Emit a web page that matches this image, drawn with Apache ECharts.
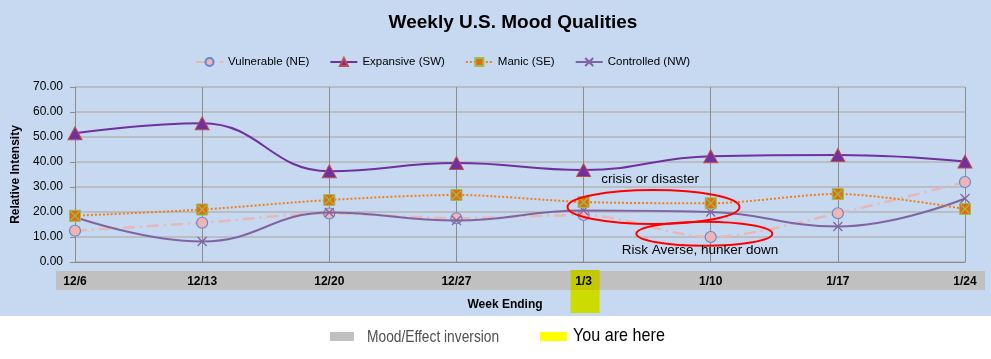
<!DOCTYPE html>
<html><head><meta charset="utf-8">
<script src="https://cdn.jsdelivr.net/npm/echarts@6/dist/echarts.min.js"></script>
<style>html,body{margin:0;padding:0;background:#C6D9F1;}#c{width:991px;height:359px;}</style>
</head><body><div id="c"></div>
<script>
const categories = ['12/6','12/13','12/20','12/27','1/3','1/10','1/17','1/24'];
const vulnerable = [12.5, 15.7, 19.4, 17.5, 18.8, 10.0, 19.5, 32.0];
const expansive  = [51.5, 55.5, 36.3, 39.6, 36.8, 42.3, 42.8, 40.2];
const manic      = [18.5, 21.0, 24.8, 26.8, 24.0, 23.5, 27.2, 21.2];
const controlled = [18.0, 8.2, 19.8, 16.6, 20.6, 20.0, 14.2, 25.4];
const yTicks = [0, 10, 20, 30, 40, 50, 60, 70];
const annotations = [
  {text: 'crisis or disaster', x: 4.55, y: 22.0, rx: 86, ry: 17, tx: 4.14, ty: 33.0},
  {text: 'Risk Averse, hunker down', x: 4.95, y: 11.3, rx: 68, ry: 12, tx: 4.3, ty: 4.5}
];
const youAreHere = 4;

const chart = echarts.init(document.getElementById('c'), null, {renderer: 'canvas'});
const FONT = 'Liberation Sans, Arial, sans-serif';
const crossPath = 'path://M0,0L10,10M10,0L0,10';
const sqX = 'path://M0,0L10,0L10,10L0,10Z';

chart.setOption({
  backgroundColor: '#C6D9F1',
  animation: false,
  title: {
    text: 'Weekly U.S. Mood Qualities', left: 508, top: 8, textAlign: 'center',
    textStyle: {fontFamily: FONT, fontWeight: 'bold', fontSize: 19, color: '#000'}
  },
  legend: {
    left: 190, top: 51, itemGap: 20, itemWidth: 27, itemHeight: 10,
    textStyle: {fontFamily: FONT, fontSize: 11.5, color: '#000'},
    data: ['Vulnerable (NE)', 'Expansive (SW)', 'Manic (SE)', 'Controlled (NW)']
  },
  grid: {left: 75, right: 26, top: 87, bottom: 97},
  xAxis: {
    type: 'category', data: categories, boundaryGap: false,
    name: 'Week Ending', nameLocation: 'middle', nameGap: 37,
    nameTextStyle: {fontFamily: FONT, fontWeight: 'bold', fontSize: 12, color: '#000', padding: [0, 30, 0, 0]},
    axisLine: {lineStyle: {color: '#8C8C8C', width: 1}},
    axisTick: {show: false},
    axisLabel: {fontFamily: FONT, fontWeight: 'bold', fontSize: 12, color: '#000', margin: 14},
    splitLine: {show: true, lineStyle: {color: '#8C8C8C', width: 1}}
  },
  yAxis: {
    type: 'value', min: 0, max: 70, interval: 10,
    name: 'Relative Intensity', nameLocation: 'middle', nameGap: 50,
    nameTextStyle: {fontFamily: FONT, fontWeight: 'bold', fontSize: 12, color: '#000'},
    axisLine: {show: true, lineStyle: {color: '#8C8C8C'}},
    axisTick: {show: true, length: 5, lineStyle: {color: '#8C8C8C'}},
    axisLabel: {fontFamily: FONT, fontSize: 12, color: '#000', margin: 12,
      formatter: v => yTicks.includes(v) ? v.toFixed(2) : ''},
    splitLine: {lineStyle: {color: '#B4B4B4', width: 1.5}}
  },
  series: [
    {
      name: 'Vulnerable (NE)', type: 'line', data: vulnerable, smooth: 0.3,
      symbol: 'circle', symbolSize: 11,
      lineStyle: {color: '#E6B9B8', width: 2.5, type: [12, 5, 2, 5]},
      itemStyle: {color: '#F2B3B3', borderColor: '#5B8BD0', borderWidth: 1.2}, z: 3
    },
    {
      name: 'Expansive (SW)', type: 'line', data: expansive, smooth: 0.45,
      symbol: 'triangle', symbolSize: [14, 13],
      lineStyle: {color: '#7030A0', width: 2},
      itemStyle: {color: '#7030A0', borderColor: '#C0504D', borderWidth: 1}, z: 4
    },
    {
      name: 'Manic (SE)', type: 'line', data: manic, smooth: 0.3,
      symbol: sqX, symbolSize: 11, symbolKeepAspect: true,
      lineStyle: {color: '#F07F1A', width: 2, type: [2, 2]},
      itemStyle: {color: '#E46C0A', borderColor: '#9BBB59', borderWidth: 1}, z: 5
    },
    {
      name: 'Manic (SE)', type: 'line', data: manic, lineStyle: {width: 0, opacity: 0},
      symbol: crossPath, symbolSize: 9, silent: true,
      itemStyle: {color: 'transparent', borderColor: '#9BBB59', borderWidth: 1.2}, z: 6,
      legendHoverLink: false
    },
    {
      name: 'Controlled (NW)', type: 'line', data: controlled, smooth: 0.45,
      symbol: crossPath, symbolSize: 9,
      lineStyle: {color: '#8064A2', width: 2},
      itemStyle: {color: 'transparent', borderColor: '#8064A2', borderWidth: 1.2}, z: 4
    }
  ]
});

const px = (i, v) => chart.convertToPixel({gridIndex: 0}, [i, v]);
const fx = (x, y) => {
  const i0 = Math.floor(x), f = x - i0;
  const a = px(i0, y), b = px(Math.min(i0 + 1, categories.length - 1), y);
  return [a[0] + (b[0] - a[0]) * f, a[1]];
};
const gridLeft = px(0, 0), gridRight = px(categories.length - 1, 0);
const yh = px(youAreHere, 0);
const graphics = [
  {type: 'rect', shape: {x: 0, y: 316, width: 991, height: 43}, style: {fill: '#FFFFFF'}, z: -20, silent: true},
  {type: 'rect', shape: {x: gridLeft[0] - 19, y: gridLeft[1] + 9, width: gridRight[0] - gridLeft[0] + 39, height: 19}, style: {fill: '#C0C0C0'}, z: -10, silent: true},
  {type: 'rect', shape: {x: yh[0] - 13, y: yh[1] + 8, width: 29, height: 20}, style: {fill: '#C4C800'}, z: -9, silent: true},
  {type: 'rect', shape: {x: yh[0] - 13, y: yh[1] + 28, width: 29, height: 23}, style: {fill: '#CCDC00'}, z: -9, silent: true},
  {type: 'rect', shape: {x: 330, y: 332, width: 24, height: 9}, style: {fill: '#C0C0C0'}, silent: true},
  {type: 'text', x: 367, y: 337, scaleX: 0.81, style: {text: 'Mood/Effect inversion', fill: '#505050', font: '17px "Liberation Sans", sans-serif', textVerticalAlign: 'middle'}, silent: true},
  {type: 'rect', shape: {x: 540, y: 332, width: 27, height: 9}, style: {fill: '#FFFF00'}, silent: true},
  {type: 'text', x: 573, y: 336, scaleX: 0.85, style: {text: 'You are here', fill: '#000', font: '19px "Liberation Sans", sans-serif', textVerticalAlign: 'middle'}, silent: true}
];
annotations.forEach(a => {
  const c = fx(a.x, a.y);
  graphics.push({type: 'ellipse', shape: {cx: c[0], cy: c[1], rx: a.rx, ry: a.ry}, style: {fill: 'none', stroke: '#FF0000', lineWidth: 2}, z: 50, silent: true});
  const t = fx(a.tx, a.ty);
  graphics.push({type: 'text', x: t[0], y: t[1], style: {text: a.text, fill: '#000', font: '13.5px Liberation Sans, Arial, sans-serif', textVerticalAlign: 'middle'}, z: 50, silent: true});
});
chart.setOption({graphic: graphics});
</script></body></html>
